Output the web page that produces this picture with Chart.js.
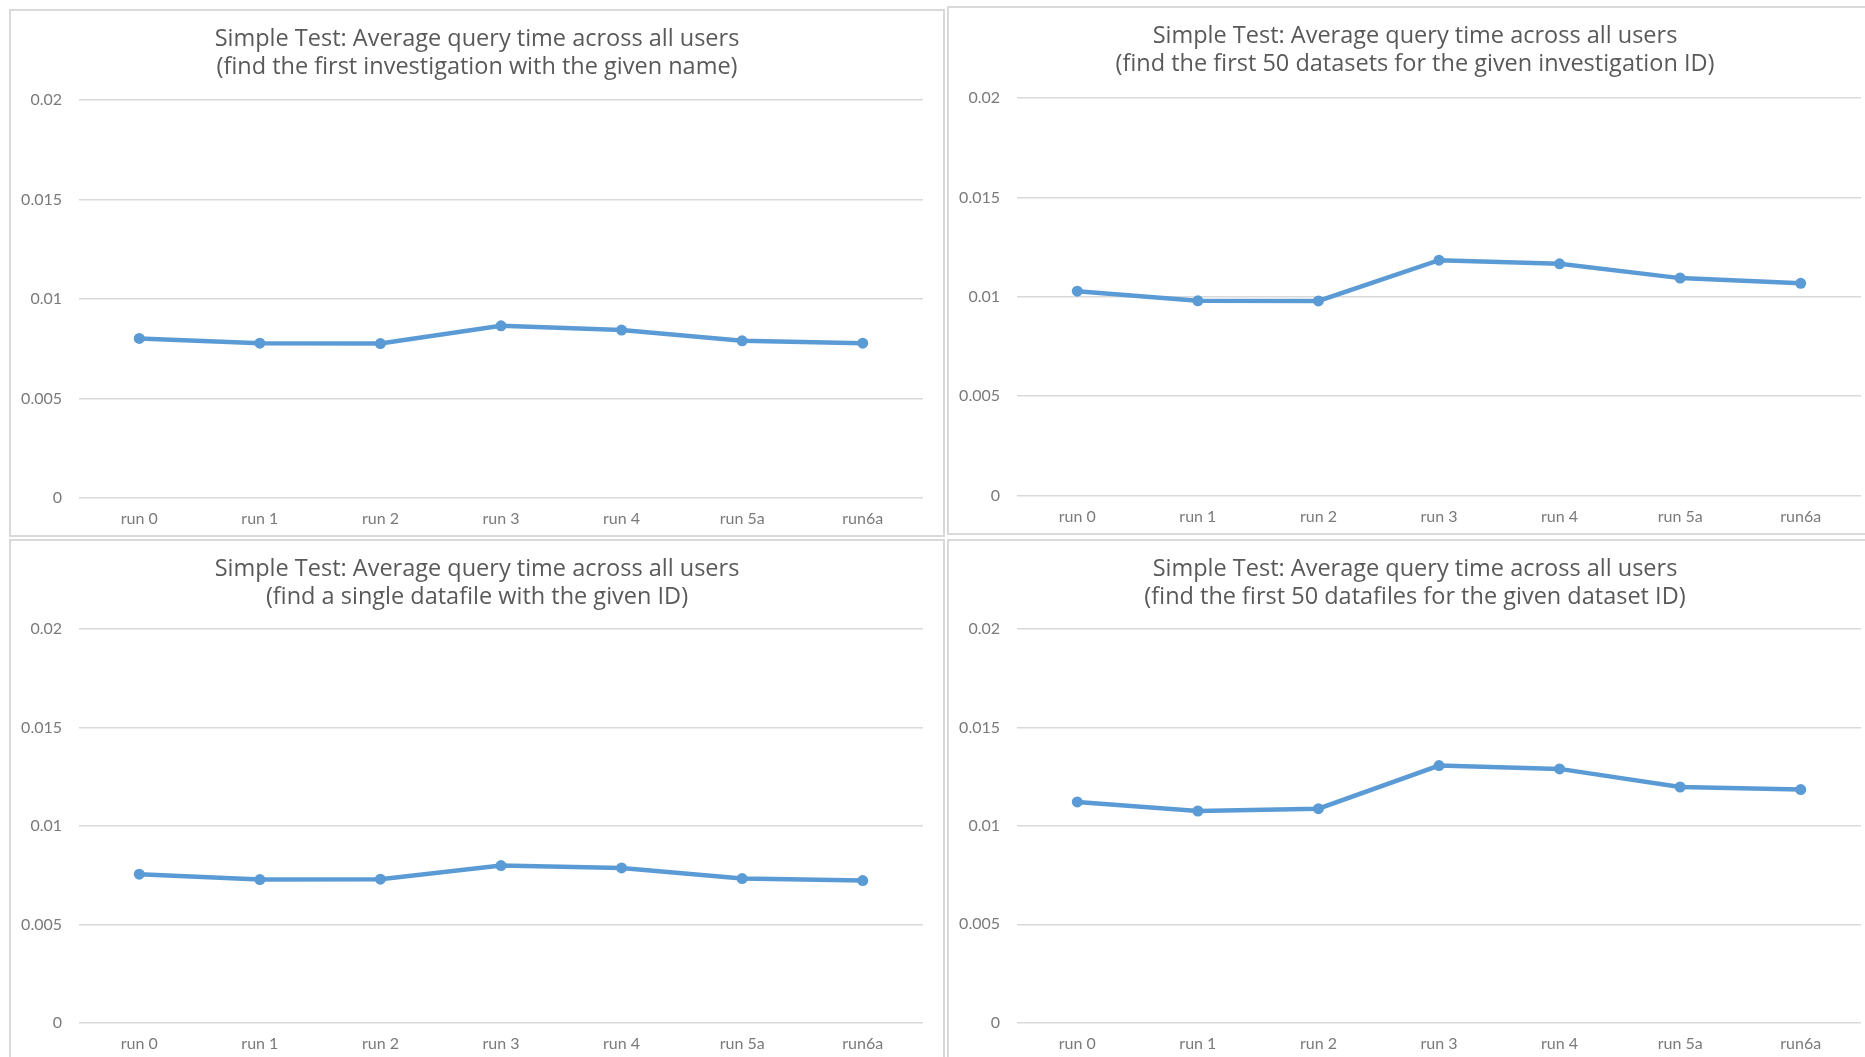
<!DOCTYPE html>
<html>
<head>
<meta charset="utf-8">
<script src="https://cdn.jsdelivr.net/npm/chart.js@4/dist/chart.umd.min.js"></script>
<style>
  html, body { margin: 0; padding: 0; background: #ffffff; overflow: hidden; }
  body { width: 1865px; height: 1057px; position: relative; }
  .panel { position: absolute; box-sizing: content-box; border: 0 solid #d9d9d9; background: #fff; }
  .panel canvas { display: block; }
  #p1 { left: 9px; top: 9px; border-width: 2px; }
  #p2 { left: 947px; top: 6px; border-width: 2px 2px 2px 2px; }
  #p3 { left: 9px; top: 539px; border-width: 2px 2px 0 2px; }
  #p4 { left: 947px; top: 539px; border-width: 2px 2px 0 2px; }
</style>
</head>
<body>
<div class="panel" id="p1"><canvas id="c1" width="932" height="524" style="width:932px;height:524px"></canvas></div>
<div class="panel" id="p2"><canvas id="c2" width="932" height="525" style="width:932px;height:525px"></canvas></div>
<div class="panel" id="p3"><canvas id="c3" width="932" height="516" style="width:932px;height:516px"></canvas></div>
<div class="panel" id="p4"><canvas id="c4" width="932" height="516" style="width:932px;height:516px"></canvas></div>
<script>
// Test runs on the category axis
const runs = ['run 0', 'run 1', 'run 2', 'run 3', 'run 4', 'run 5a', 'run6a'];

// Value-axis ticks (seconds)
const yTicks = [0, 0.005, 0.01, 0.015, 0.02];
const yTickLabels = ['0', '0.005', '0.01', '0.015', '0.02'];

// Average query time per run (seconds)
const investigationByName = [0.00802, 0.00778, 0.00776, 0.00865, 0.00844, 0.00790, 0.00778];
const datasetsByInvestigation = [0.01028, 0.00980, 0.00979, 0.01184, 0.01166, 0.01094, 0.01068];
const datafileById = [0.00755, 0.00728, 0.00730, 0.00799, 0.00787, 0.00733, 0.00723];
const datafilesByDataset = [0.01122, 0.01076, 0.01088, 0.01307, 0.01290, 0.01198, 0.01185];

const titleMain = 'Simple Test: Average query time across all users';
const subtitles = [
  '(find the first investigation with the given name)',
  '(find the first 50 datasets for the given investigation ID)',
  '(find a single datafile with the given ID)',
  '(find the first 50 datafiles for the given dataset ID)'
];

const LINE_BLUE = '#5b9bd5';
const TITLE_FONT = '"Open Sans", Lato, "Liberation Sans", sans-serif';
const TICK_FONT = 'Lato, "Open Sans", "Liberation Sans", sans-serif';

function makeChart(canvasId, subtitle, values, box) {
  return new Chart(document.getElementById(canvasId), {
    type: 'line',
    data: {
      labels: runs,
      datasets: [{
        data: values,
        yAxisID: 'y',
        borderColor: LINE_BLUE,
        backgroundColor: LINE_BLUE,
        borderWidth: 4.5,
        pointRadius: 5.5,
        pointBorderWidth: 0,
        pointBackgroundColor: LINE_BLUE,
        tension: 0,
        fill: false
      }]
    },
    options: {
      responsive: false,
      devicePixelRatio: 1,
      animation: false,
      events: [],
      layout: { padding: 0 },
      plugins: {
        legend: { display: false },
        tooltip: { enabled: false },
        title: {
          display: true,
          text: [titleMain, subtitle],
          color: '#595959',
          font: { family: TITLE_FONT, size: 23.5, weight: 'normal', lineHeight: '27.8px' },
          padding: { top: box.titleTop, bottom: box.titleBottom }
        }
      },
      scales: {
        x: {
          type: 'category',
          offset: true,
          grid: { display: false, drawTicks: false },
          border: { display: false },
          ticks: {
            color: '#7a7a7a',
            font: { family: TICK_FONT, size: 16 },
            padding: 11.5,
            maxRotation: 0,
            autoSkip: false
          },
          afterFit: (scale) => { scale.height = box.xHeight; }
        },
        y: {
          position: 'left',
          min: 0,
          max: 0.02,
          grid: { color: '#d9d9d9', lineWidth: 1.5, drawTicks: false },
          border: { display: false },
          afterBuildTicks: (scale) => { scale.ticks = yTicks.map(v => ({ value: v })); },
          ticks: {
            color: '#7a7a7a',
            font: { family: TICK_FONT, size: 16 },
            padding: 17,
            callback: (value) => yTickLabels[yTicks.findIndex(t => Math.abs(t - value) < 1e-9)]
          },
          afterFit: (scale) => { scale.width = 68; }
        },
        // empty right-hand margin so the plot area stays centred under the title
        margin: {
          type: 'linear',
          position: 'right',
          display: true,
          grid: { display: false, drawTicks: false },
          border: { display: false },
          ticks: { display: false },
          afterFit: (scale) => { scale.width = 20; }
        }
      }
    }
  });
}

makeChart('c1', subtitles[0], investigationByName, { titleTop: 14.4, titleBottom: 19.0, xHeight: 37 });
makeChart('c2', subtitles[1], datasetsByInvestigation, { titleTop: 14.7, titleBottom: 19.7, xHeight: 37.4 });
makeChart('c3', subtitles[2], datafileById, { titleTop: 14.2, titleBottom: 18.1, xHeight: 34 });
makeChart('c4', subtitles[3], datafilesByDataset, { titleTop: 14.5, titleBottom: 18.1, xHeight: 34.3 });
</script>
</body>
</html>
